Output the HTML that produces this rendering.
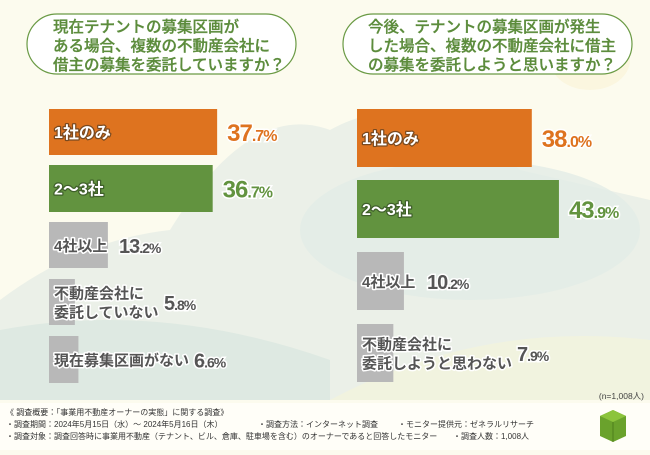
<!DOCTYPE html>
<html><head><meta charset="utf-8"><style>
body{margin:0;width:650px;height:450px;overflow:hidden;background:#fcfbee;font-family:"Liberation Sans","Noto Sans CJK JP",sans-serif;}
svg text{font-family:"Liberation Sans","Noto Sans CJK JP",sans-serif;}
</style></head><body>
<svg width="650" height="450" viewBox="0 0 650 450">
<g>
<rect width="650" height="450" fill="#fcfbee"/>
<path d="M170,230 Q250,100 330,130 Q420,80 520,170 L650,200 L650,400 L0,400 L0,300 Q80,240 170,230Z" fill="#e6eee6" opacity="0.8"/>
<ellipse cx="470" cy="230" rx="170" ry="70" fill="#e2ece6" opacity="0.8"/>
<path d="M0,330 Q160,300 330,360 L330,400 L0,400Z" fill="#dbe7e0" opacity="0.8"/>
<path d="M330,400 Q480,320 650,340 L650,400Z" fill="#f1f3df"/>
<ellipse cx="590" cy="60" rx="40" ry="30" fill="#faf3d6" opacity="0.6"/>
</g>
<g>
<rect x="27" y="14" width="269" height="60" rx="30" fill="#fff" stroke="#6a9a44" stroke-width="1.2"/>
<text font-size="15.5" font-weight="500" fill="#5c8c3c" stroke="#5c8c3c" stroke-width="0.3"><tspan x="53" y="32">現在テナントの募集区画が</tspan><tspan x="53" y="51">ある場合、複数の不動産会社に</tspan><tspan x="53" y="70">借主の募集を委託していますか？</tspan></text>
</g>
<g>
<rect x="343" y="14" width="289" height="60" rx="30" fill="#fff" stroke="#6a9a44" stroke-width="1.2"/>
<text font-size="15.5" font-weight="500" fill="#5c8c3c" stroke="#5c8c3c" stroke-width="0.3"><tspan x="368" y="32">今後、テナントの募集区画が発生</tspan><tspan x="368" y="51">した場合、複数の不動産会社に借主</tspan><tspan x="368" y="70">の募集を委託しようと思いますか？</tspan></text>
</g>
<g id="left"></g>
<g id="right"></g>
<text x="644" y="399" font-size="8.5" fill="#444" text-anchor="end">(n=1,008人)</text>
<g>
<rect x="0" y="403" width="650" height="47" fill="#fffef8"/>
<text font-size="8" fill="#333"><tspan x="6" y="415">《 調査概要：「事業用不動産オーナーの実態」に関する調査》</tspan><tspan x="6" y="427">・調査期間：2024年5月15日（水）～ 2024年5月16日（木）</tspan><tspan x="258" y="427">・調査方法：インターネット調査</tspan><tspan x="398" y="427">・モニター提供元：ゼネラルリサーチ</tspan><tspan x="6" y="439">・調査対象：調査回答時に事業用不動産（テナント、ビル、倉庫、駐車場を含む）のオーナーであると回答したモニター</tspan><tspan x="453" y="439">・調査人数：1,008人</tspan></text>
<g><path d="M600,416 L613,410 L626,416 L626,436 L613,442 L600,436Z" fill="#6aa22c"/><path d="M600,416 L613,422 L626,416 L613,410Z" fill="#8cc43c"/><path d="M613,422 L613,442" stroke="#4d7d1c"/></g>
</g>
</svg>
<script>
const categoriesL=["1社のみ","2〜3社","4社以上","不動産会社に|委託していない","現在募集区画がない"];
const valuesL=[37.7,36.7,13.2,5.8,6.6];
const categoriesR=["1社のみ","2〜3社","4社以上","不動産会社に|委託しようと思わない"];
const valuesR=[38.0,43.9,10.2,7.9];
const colorsL=["#de731f","#62933f","#b8b8b8","#b8b8b8","#b8b8b8"];
const colorsR=["#de731f","#62933f","#b8b8b8","#b8b8b8"];
const NS="http://www.w3.org/2000/svg";
function mk(t,a,p){const e=document.createElementNS(NS,t);for(const k in a)e.setAttribute(k,a[k]);p.appendChild(e);return e;}
function draw(gid,cats,vals,cols,x0,scale,ys,hs,side){
  const g=document.getElementById(gid);
  cats.forEach((c,i)=>{
    const w=vals[i]*scale,y=ys[i],h=hs[i];
    const bar=mk("rect",{x:x0,y:y,width:w,height:h,fill:cols[i]},g);
    
    
    const gray=cols[i]==="#b8b8b8";
    const lines=c.split("|");
    const fs=gray?15:16;
    const lbl=mk("text",{"font-size":fs,"font-weight":"bold",fill:gray?"#555":"#fff",stroke:gray?"#fff":"#7a4a20","stroke-width":gray?3:2.5,"paint-order":"stroke","stroke-linejoin":"round"},g);
    if(!gray&&i===1)lbl.setAttribute("stroke","#3f5f2a");
    
    
    let tw=0;
    lines.forEach((l,j)=>{const t=mk("tspan",{x:x0+5,y:y+h/2+6+(j-(lines.length-1)/2)*19},lbl);t.textContent=l;tw=Math.max(tw,l.length*fs);});
    const vx=gray?Math.max(x0+w,x0+5+tw)+5:x0+w+10;
    const vc=i===0?"#de731f":(i===1?"#62933f":"#555");
    const s=vals[i].toFixed(1).split(".");
    const vt=mk("text",{x:vx,y:y+h/2+(gray?8:9),fill:vc,stroke:"#fff","stroke-width":3,"paint-order":"stroke","font-weight":"bold","letter-spacing":"-1"},g);
    
    
    const a=mk("tspan",{"font-size":gray?20:24},vt);a.textContent=s[0];
    const b=mk("tspan",{"font-size":gray?14:16},vt);b.textContent="."+s[1]+"%";
  });
}
draw("left",categoriesL,valuesL,colorsL,49,4.46,[109,165,222,279,336],[46,47,46,46,47],"left");
draw("right",categoriesR,valuesR,colorsR,357,4.6,[109,180,252,324],[58,58,58,58],"right");
</script>
</body></html>
